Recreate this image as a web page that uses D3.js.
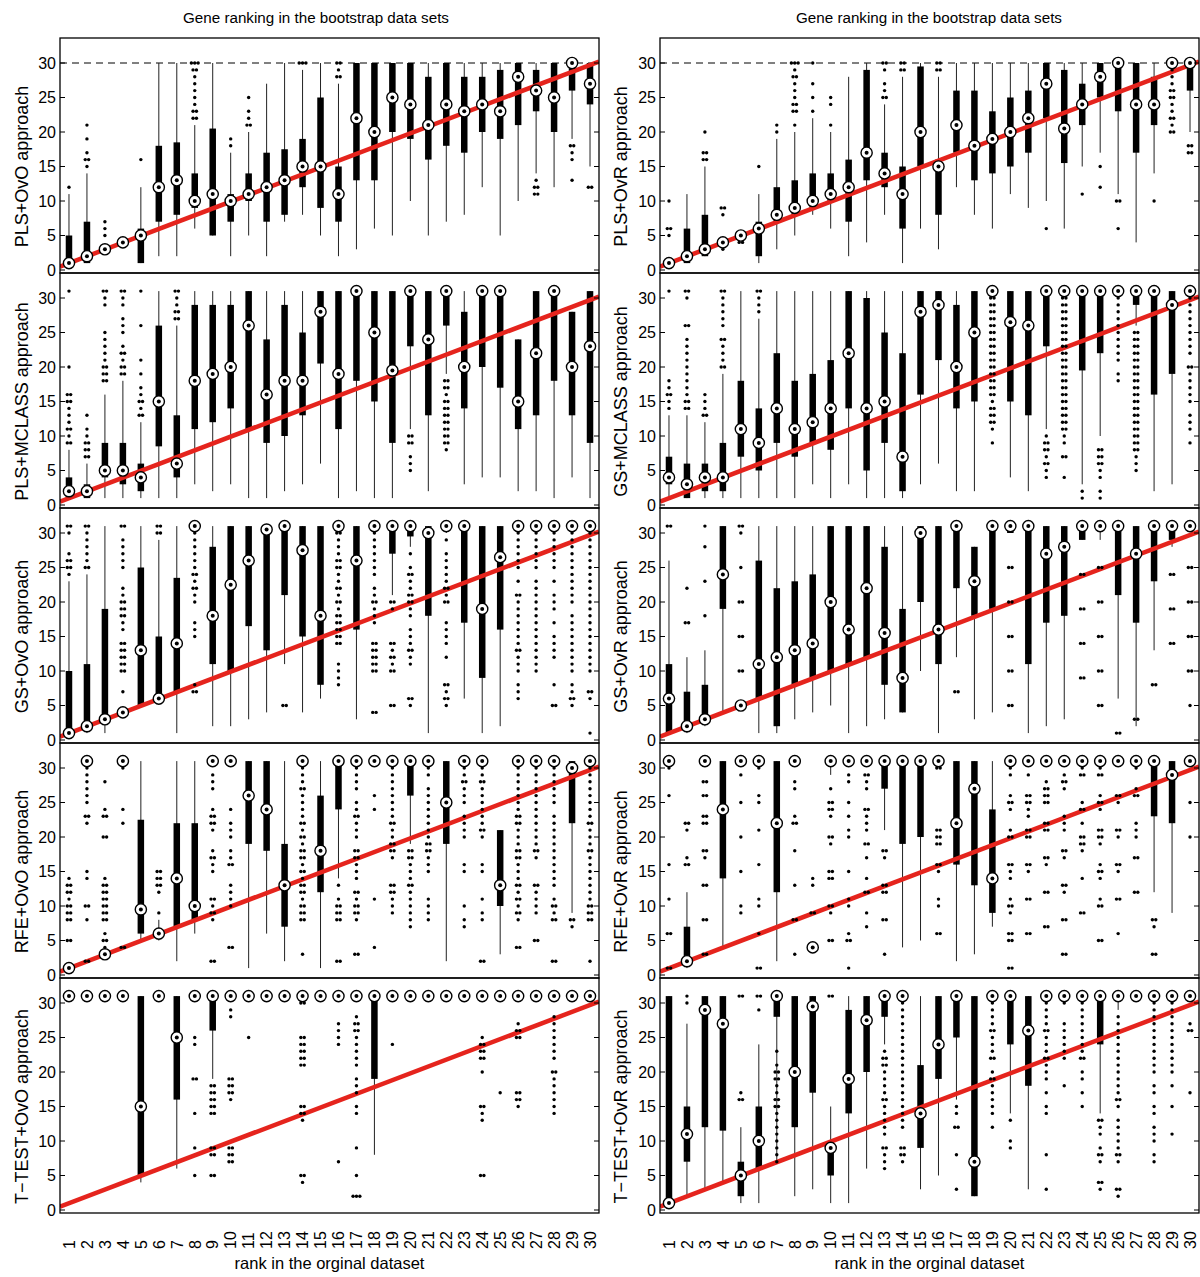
<!DOCTYPE html>
<html><head><meta charset="utf-8">
<script src="https://cdn.jsdelivr.net/npm/d3@7"></script>
<style>body{margin:0;background:#fff} text{font-family:"Liberation Sans",Arial,Helvetica,sans-serif;fill:#000}</style>
</head><body><svg id="c" width="1200" height="1277"></svg>
<script>
// ---------------- DATA ----------------
const ranks = [1,2,3,4,5,6,7,8,9,10,11,12,13,14,15,16,17,18,19,20,21,22,23,24,25,26,27,28,29,30];
const rankLabels = ["1","2","3","4","5","6","7","8","9","10","11","12","13","14","15","16","17","18","19","20","21","22","23","24","25","26","27","28","29","30"];
const yTicks = [0,5,10,15,20,25,30];
const columnTitle = "Gene ranking in the bootstrap data sets";
const xAxisTitle = "rank in the orginal dataset";
const leftLabels = ["PLS+OvO approach","PLS+MCLASS approach","GS+OvO approach","RFE+OvO approach","T\u2212TEST+OvO approach"];
const rightLabels = ["PLS+OvR approach","GS+MCLASS approach","GS+OvR approach","RFE+OvR approach","T\u2212TEST+OvR approach"];
const refLine = [[0.5,0.5],[30.5,30.2]];
const cutoffLevel = 30;

// box stats per rank: [whiskerLow, q1, median, q3, whiskerHigh]
const plsOvO_box = [[1,1,1,5,11],[1,1,2,7,14],[3,3,3,3,3],[4,4,4,4,4],[1,1,5,6,12],[2,7,12,18,30],[2,8,13,18.5,30],[6,9,10,14,21],[5,5,11,20.5,30],[2,7,10,11,17],
 [5,10,11,14,20],[2,7,12,17,27],[7,8,13,17.5,30],[8,12,15,19,29],[5,9,15,25,30],[2,7,11,15,27],[3,13,22,30,30],[6,13,20,30,30],[5,20,25,30,30],[10,19,24,30,30],
 [5,16,21,28,30],[7,18,24,30,30],[8,17,23,28,30],[12,20,24,28,30],[5,19,23,29,30],[10,21,28,30,30],[14,23,26,29,30],[12,20,25,30,30],[19,26,30,30,30],[15,24,27,30,30]];
const plsOvO_out = [[12],[15,16,16,17,19,21],[5,6,7],[],[16],[],[],[22,22,23,23,24,25,26,27,28,29,29,30,30,30],[],[18,19],
 [21,21,22,23,25],[],[],[30,30,30],[],[28,28,29,30,30],[],[],[],[],
 [],[],[],[],[],[],[11,11,12,12,13],[],[13,16,17,18,18],[12,12]];

const plsOvR_box = [[1,1,1,1,1],[1,1,2,6,11],[2,2,3,8,15],[4,4,4,4,4],[5,5,5,5,5],[1,2,6,7,11],[3,7,8,12,19],[5,8,9,13,20],[8,9,10,14,22],[6,10,11,14,20],
 [2,7,12,16,28],[4,13,17,29,30],[8,12,14,17,24],[1,6,11,15,28],[6,15,20,29.5,30],[3,8,15,16,28],[12,17,21,26,30],[8,13,18,26,30],[6,14,19,23,30],[11,15,20,25,30],
 [9,17,22,26,30],[10,22,27,30,30],[6,15.5,20.5,29,30],[15,21,24,27,30],[17,25,28,30,30],[11,23,30,30,30],[4,17,24,30,30],[14,21,24,28,30],[30,30,30,30,30],[20,26,30,30,30]];
const plsOvR_out = [[5,6,6,10],[],[16,16,17,17,20],[3,8,9,9],[4,4],[15],[20,21],[21,23,23,24,24,25,26,27,28,28,29,30,30,30],[23,25,27,30],[21,24,25],
 [],[],[25,25,26,27,29,30,30],[29,29,30,30],[],[29,29,30,30],[],[],[],[],
 [],[6],[],[11],[12,15],[6,10,10],[],[10],[20,20,21,22,22,23,24,25,25,26,26,27,28,29],[17,17,18,18]];

const plsMc_box = [[1,1,2,4,8],[1,1,2,3,6],[1,4,5,9,16],[1,3,5,9,18],[1,2,4,6,12],[1,8.5,15,26,31],[1,4,6,13,26],[3,11,18,29,31],[2,12,19,29,31],[3,14,20,29,31],
 [1,11,26,31,31],[1,9,16,24,31],[2,10,18,29,31],[3,13,18,25,31],[6,20.5,28,31,31],[1,11,19,31,31],[2,18,31,31,31],[1,15,25,31,31],[1,9,19.5,31,31],[11,23,31,31,31],
 [2,13,24,31,31],[19,26,31,31,31],[3,14,20,28,31],[4,20,31,31,31],[4,17,31,31,31],[2,11,15,24,24],[2,13,22,31,31],[1,18,31,31,31],[4,13,20,28,28],[1,9,23,31,31]];
const plsMc_out = [[9,9,10,11,11,12,13,14,15,15,16,16,20,31],[7,7,8,8,9,9,10,11,13],[18,18,19,19,20,20,21,22,23,24,25,29,30,31,31],[19,19,20,20,21,22,22,23,25,26,27,29,30,31,31],[13,13,14,15,15,16,17,19,21,26,31],[],[27,27,28,28,29,30,31,31],[],[],[],
 [],[],[],[],[],[],[],[],[],[5,6,7,9,9,10,10],
 [],[8,9,9,10,10,11,11,12,12,13,13,14,14,15,15,16,17,17,18,18],[],[],[],[],[],[],[],[]];

const gsMc_box = [[1,3,4,7,13],[1,1,3,6,13],[1,2,4,6,12],[1,2,4,9,19],[1,7,11,18,31],[1,5,9,14,27],[1,9,14,22,31],[1,7,11,18,31],[3,9,12,19,31],[1,8,14,21,31],
 [3,14,22,31,31],[1,5,14,30,31],[1,9,15,25,31],[1,2,7,22,31],[3,16,28,31,31],[6,21,29,31,31],[2,14,20,29,31],[2,15,25,31,31],[31,31,31,31,31],[4,15,26.5,31,31],
 [2,13,26,31,31],[11,23,31,31,31],[31,31,31,31,31],[3,19.5,31,31,31],[10,22,31,31,31],[31,31,31,31,31],[26,29,31,31,31],[2,16,31,31,31],[3,19,29,31,31],[31,31,31,31,31]];
const gsMc_out = [[14,15,16,16,17,18,31],[14,14,15,15,16,17,18,19,20,21,22,23,24,26,26,30,31,31],[13,13,14,15,16],[20,20,21,22,23,24,24,26,27,28,29,30,31,31],[],[28,29,30,31,31],[],[],[],[],
 [],[],[],[],[],[],[],[],[9,11,12,12,13,13,14,14,15,16,16,17,17,18,18,19,19,20,20,21,21,22,22,23,23,24,24,25,25,26,26,27,27,28,28,29,29,30,30],[],
 [],[4,5,6,6,7,8,8,9,9,10],[4,7,7,9,10,11,11,12,12,13,13,14,14,15,15,16,16,17,17,18,18,19,19,20,20,21,21,22,22,23,23,24,24,25,25,26,26,27,27,28,28,29,29,30,30],[1,2],[1,2,4,5,6,6,7,7,8,8],[18,19,21,22,23,24,25,26,27,28,29,30],[5,6,7,8,8,9,9,10,10,11,11,12,12,13,13,14,14,15,15,16,16,17,17,18,18,19,19,20,20,21,21,22,22,23,23,24,24,25,25],[],[],[9,11,12,13,15,16,17,18,19,20,20,22,23,24,25,26,27,28,29,30]];

const gsOvO_box = [[1,1,1,10,23],[1,2,2,11,24],[1,3,3,19,31],[4,4,4,4,4],[5,5,13,25,31],[6,6,6,15,29],[1,7,14,23.5,31],[31,31,31,31,31],[2,11,18,28,31],[2,10,22.5,31,31],
 [3,16.5,26,31,31],[4,13,30.5,31,31],[11,21,31,31,31],[4,15,27.5,31,31],[6,8,18,31,31],[31,31,31,31,31],[3,16,26,31,31],[31,31,31,31,31],[21,27,31,31,31],[28,29.5,31,31,31],
 [1,18,30,31,31],[30,31,31,31,31],[6,17,31,31,31],[1,9,19,31,31],[2,16,26.5,31,31],[31,31,31,31,31],[31,31,31,31,31],[31,31,31,31,31],[31,31,31,31,31],[31,31,31,31,31]];
const gsOvO_out = [[24,25,25,26,26,27,30,31,31],[25,25,26,27,28,29,30,31,31],[],[7,10,10,11,11,12,12,13,13,14,14,16,17,18,18,19,19,20,20,21,22,25,26,27,28,29,31,31],[],[30,30,31,31],[],[7,7,8,15,16,17,20,21,22,22,23,24,24,25,26,27,28,29,30],[],[],
 [],[],[5,5],[],[],[8,9,10,11,14,14,15,15,16,16,17,17,18,18,19,20,20,21,22,22,23,24,25,25,26,26,27,28,29,30,30],[],[4,4,10,10,11,11,12,12,13,13,14,14,17,18,19,20,20,21,22,24,25,26,27,28,29,30],[5,5,10,10,11,12,12,13,14,14,19,20,20],[5,6,6,11,12,13,13,14,15,16,18,19,20,20,21,21,22,23,24,24,25,27],
 [],[5,6,6,7,8,8,12,14,15,16,17,20,20,21,22,22,23,24,25,26,27,29],[],[],[],[6,7,8,10,11,12,13,13,14,15,16,17,18,19,20,21,21,23,25,26,27,28,29,30],[10,11,12,13,14,15,16,17,18,19,20,21,22,23,25,26,27,28,29,30],[5,5,8,12,13,14,15,17,19,20,21,23,25,26,27,28,29,30],[5,6,6,7,8,10,11,12,13,14,15,16,17,18,20,21,22,23,24,25,26,27,28,29,30],[1,6,7,7,10,11,12,13,14,15,16,17,18,19,20,21,22,23,24,25,26,27,28,29,30]];

const gsOvR_box = [[1,1,6,11,26],[1,2,2,7,12],[2,3,3,8,13],[4,19,24,31,31],[5,5,5,5,5],[1,6,11,26,31],[1,2,12,22,31],[3,8,13,23,31],[4,9,14,24,31],[5,10,20,31,31],
 [1,11,16,31,31],[2,12,22,31,31],[3,8,15.5,28,31],[4,4,9,19,31],[10,20,30,31,31],[1,11,16,31,31],[12,22,31,31,31],[3,18,23,28,28],[4,19,31,31,31],[30,30,31,31,31],
 [1,11,31,31,31],[2,17,27,31,31],[3,18,28,31,31],[29,29,31,31,31],[29,31,31,31,31],[6,21,31,31,31],[2,17,27,31,31],[13,23,31,31,31],[28,29,31,31,31],[31,31,31,31,31]];
const gsOvR_out = [[31,31],[17,17,22],[18,23,28,31],[],[10,10,15,15,20,20,25,30,31,31],[],[],[],[],[],
 [],[],[],[],[],[],[7,7],[],[],[5,5,10,10,15,15,20,20,25,25],
 [],[],[],[9,9,14,14,19,19,24,24],[5,5,10,10,15,15,20,20,25,25],[1,1],[3,3],[8,8],[14,14,19,19,24,24],[5,10,10,15,15,20,20,25,25]];

const rfeOvO_box = [[1,1,1,1,1],[31,31,31,31,31],[3,3,3,3,3],[31,31,31,31,31],[5,6,9.5,22.5,31],[5,5.5,6,6.5,8],[2,7,14,22,31],[6,8,10,22,31],[31,31,31,31,31],[31,31,31,31,31],
 [1,19,26,31,31],[6,18,24,31,31],[2,7,13,19,31],[31,31,31,31,31],[1,12,18,26,31],[14,24,31,31,31],[31,31,31,31,31],[31,31,31,31,31],[31,31,31,31,31],[19,26,31,31,31],
 [31,31,31,31,31],[2,19,25,31,31],[31,31,31,31,31],[31,31,31,31,31],[3,10,13,21,21],[31,31,31,31,31],[31,31,31,31,31],[31,31,31,31,31],[9,22,30,31,31],[31,31,31,31,31]];
const rfeOvO_out = [[5,5,8,8,9,9,10,10,11,12,12,13,13,14],[2,2,8,10,10,14,15,22,23,23,25,26,27,28,29,30],[4,5,5,6,8,8,9,9,10,10,11,11,12,12,13,13,14,20,20,23,23,24,28],[4,4,22,24,30],[],[9,12,13,13,14,14,15,15],[],[],[2,2,8,9,9,10,11,11,15,16,17,17,18,21,22,22,23,23,24,27,28,29],[4,4,10,11,12,13,16,16,17,18,20,21,22,24],
 [],[],[],[3,8,8,9,9,10,10,11,12,12,13,13,14,15,15,16,17,17,18,18,19,20,20,21,22,22,23,24,25,26,27,27,28,29,30],[],[2,2,8,8,9,9,10,10,11,13],[3,3,8,9,9,10,10,11,12,12,14,15,16,17,17,18,18,20,21,22,23,23,24,25,27,28,29,30],[4,11,24,26],[9,10,11,12,12,13,13,17,18,18,19,19,20,21,22,22,23,24,25,26,27,28,29,30],[7,8,9,10,11,12,13,13,14,15,16,17,17,18,18],
 [8,9,10,11,15,16,17,18,18,19,19,20,21,22,23,24,25,26,27,29,30],[],[7,8,10,15,16,20,21,22,23,25,26,27,28,28,29,30],[2,2,8,9,11,15,16,20,21,21,22,23,24,25,26,27,28,28,29,30],[],[4,4,8,9,9,10,11,11,12,13,13,14,15,16,17,17,18,18,19,20,21,22,22,23,23,24,25,26,27,28,29,30],[5,5,9,10,11,12,13,13,17,18,18,19,20,21,22,23,24,25,26,27,28,29,30],[2,2,8,8,9,10,10,11,13,14,15,16,17,18,19,20,21,22,23,25,26,27,28,29,30],[7,8,8],[2,8,8,9,9,10,10,11,12,13,14,15,16,17,18,18,19,20,21,22,22,23,24,25,26,27,28,29,30]];

const rfeOvR_box = [[31,31,31,31,31],[1,2,2,7,12],[31,31,31,31,31],[4,14,24,31,31],[31,31,31,31,31],[31,31,31,31,31],[2,12,22,31,31],[31,31,31,31,31],[4,4,4,4,4],[29,31,31,31,31],
 [31,31,31,31,31],[31,31,31,31,31],[21,27,31,31,31],[4,19,31,31,31],[5,20,31,31,31],[31,31,31,31,31],[2,16,22,31,31],[3,13,27,31,31],[7,9,14,24,31],[31,31,31,31,31],
 [31,31,31,31,31],[31,31,31,31,31],[31,31,31,31,31],[31,31,31,31,31],[31,31,31,31,31],[31,31,31,31,31],[31,31,31,31,31],[12,23,31,31,31],[9,22,29,31,31],[31,31,31,31,31]];
const rfeOvR_out = [[1,1,6,6,11,16,26,30],[16,16,17,21,22,22],[3,3,8,8,13,13,17,18,18,22,22,23,23,26,26,28,28],[],[9,10,15,20,25,29],[1,1,6,10,11,16,21,25,26,30],[],[3,8,8,13,18,22,22,23,27,28],[9,9,13,14],[5,5,9,10,10,14,14,15,15,19,20,20,23,24,24,25,25,27],
 [1,5,5,6,10,11,15,20,21,23,25,28,29],[7,9,12,12,14,17,19,19,21,22,23,24,24,27,28,29,29],[3,8,8,12,12,13,13,17,18,18],[],[],[6,6,10,11,15,16,16,19,19,20,20,21,21,30,30],[],[],[],[1,1,5,5,6,6,9,10,10,11,14,15,16,16,20,20,21,24,25,25,26,29,30],
 [6,6,11,11,15,16,16,20,20,21,21,23,24,25,25,26,26,29],[7,7,12,12,16,17,17,21,21,22,22,25,25,26,26,27,27,28],[3,3,8,8,12,13,13,17,18,18,21,22,23,27,28,28,29],[9,9,14,18,19,19,20,20,22,24,24,25,29,29,30],[5,5,10,10,11,14,15,15,16,19,20,20,21,21,24,25,25,26,29,29,30],[6,11,11,15,16,16,20,21,21,25,26,26],[12,12,17,17,20,21,22,26,26,27,30],[3,3,7,8,8],[],[20,25]];

const ttOvO_box = [[31,31,31,31,31],[31,31,31,31,31],[31,31,31,31,31],[31,31,31,31,31],[4,5,15,31,31],[31,31,31,31,31],[6,16,25,31,31],[31,31,31,31,31],[19,26,31,31,31],[31,31,31,31,31],
 [31,31,31,31,31],[31,31,31,31,31],[31,31,31,31,31],[31,31,31,31,31],[31,31,31,31,31],[31,31,31,31,31],[31,31,31,31,31],[8,19,31,31,31],[31,31,31,31,31],[31,31,31,31,31],
 [31,31,31,31,31],[31,31,31,31,31],[31,31,31,31,31],[31,31,31,31,31],[31,31,31,31,31],[31,31,31,31,31],[31,31,31,31,31],[31,31,31,31,31],[31,31,31,31,31],[31,31,31,31,31]];
const ttOvO_out = [[],[],[],[],[],[],[],[5,9,14,19,19,24,25],[5,5,8,8,9,9,14,14,15,15,16,16,17,17,18,18],[7,7,8,8,9,9,16,17,17,18,18,19,19,28,29],
 [25],[],[],[4,5,5,13,14,14,15,15,21,21,22,22,23,23,24,24,25,25,30,30],[],[7,24,25,26,27],[2,2,2,5,9,14,15,17,18,19,21,22,23,24,25,26,26,27,27,28],[],[24],[],
 [],[],[],[5,5,13,14,15,15,20,22,22,23,23,24,24,25],[17],[15,16,16,17,17,25,25,26,26,27],[],[14,15,16,17,18,19,20,20,22,23,24,25,26,27,28],[],[]];

const ttOvR_box = [[1,1,1,31,31],[2,7,11,15,27],[3,12,29,31,31],[4,11.5,27,31,31],[1,2,5,7,12],[1,6,10,15,24],[7,28,31,31,31],[2,12,20,31,31],[3,17,29.5,31,31],[1,5,9,10,15],
 [1,14,19,29,31],[6,20,27.5,31,31],[24,28,31,31,31],[31,31,31,31,31],[3,9,14,21,31],[5,19,24,31,31],[16,25,31,31,31],[2,2,7,31,31],[31,31,31,31,31],[14,24,31,31,31],
 [3,18,26,31,31],[31,31,31,31,31],[31,31,31,31,31],[31,31,31,31,31],[14,24,31,31,31],[29,31,31,31,31],[31,31,31,31,31],[31,31,31,31,31],[31,31,31,31,31],[31,31,31,31,31]];
const ttOvR_out = [[],[30,31],[],[],[16,16,17,31,31],[29,31,31],[7,8,9,10,11,12,13,14,15,15,16,16,17,18,19,19,20,20,21,23],[],[],[31,31],
 [],[],[6,7,8,9,9,11,12,13,14,15,16,16,17,18,19,20,21,21,22,22,23],[7,8,8,9,9,12,13,14,15,16,17,18,19,20,21,22,23,24,25,26,27,28,29,30],[],[],[3,8,12,12,14,15],[],[12,14,15,16,17,18,19,19,20,22,22,23,24,25,26,26,27,28,29,30],[9,10,13],
 [],[3,8,14,15,17,19,20,21,22,22,23,24,25,26,26,27,28,29,30],[18,22,23,24,25,26,27,30],[15,17,19,20,22,22,23,24,25,26,27,28,29,30],[3,4,4,7,8,8,9,11,12,13,13],[2,3,3,7,8,8,9,10,11,12,13,15,16,16,17,18,19,20,21,22,23,24,25,26,27,28],[],[7,8,10,11,12,14,15,17,18,20,21,22,23,24,25,26,27,28,29,30],[11,15,18,20,21,22,23,24,25,26,27,28,29,30],[17,26,26,27]];

// panels (row-major by column)
const leftBoxes = [plsOvO_box, plsMc_box, gsOvO_box, rfeOvO_box, ttOvO_box];
const leftOuts  = [plsOvO_out, plsMc_out, gsOvO_out, rfeOvO_out, ttOvO_out];
const rightBoxes = [plsOvR_box, gsMc_box, gsOvR_box, rfeOvR_box, ttOvR_box];
const rightOuts  = [plsOvR_out, gsMc_out, gsOvR_out, rfeOvR_out, ttOvR_out];

// ---------------- DRAW ----------------
const svg = d3.select("#c");
const cols = [
  {x0: 60, x1: 599, labels: leftLabels, boxes: leftBoxes, outs: leftOuts, labelX: 22, titleX: 316},
  {x0: 660, x1: 1199, labels: rightLabels, boxes: rightBoxes, outs: rightOuts, labelX: 621, titleX: 929}
];
const panelTop = 38, panelH = 235;
const red = "#e5241d";

cols.forEach((col, ci) => {
  const x = d3.scaleLinear().domain([0.5, 30.5]).range([col.x0, col.x1]);
  // column title
  svg.append("text").attr("x", col.titleX).attr("y", 23)
    .attr("text-anchor", "middle").style("font-size", "15.2px").text(columnTitle);

  col.boxes.forEach((stats, pi) => {
    const top = panelTop + pi * panelH;
    const y = d3.scaleLinear().domain([0, 30]).range([top + 232, top + 25]);
    const g = svg.append("g");
    const clipId = `clip${ci}_${pi}`;
    g.append("clipPath").attr("id", clipId).append("rect")
      .attr("x", col.x0).attr("y", top).attr("width", col.x1 - col.x0).attr("height", panelH);

    // dashed cutoff line in top row
    if (pi === 0) {
      g.append("line").attr("x1", col.x0).attr("x2", col.x1)
        .attr("y1", y(cutoffLevel)).attr("y2", y(cutoffLevel))
        .attr("stroke", "#000").attr("stroke-width", 1).attr("stroke-dasharray", "7,5");
    }
    // whiskers
    stats.forEach((s, i) => {
      if (s[4] > s[0]) {
        g.append("line").attr("x1", x(ranks[i])).attr("x2", x(ranks[i]))
          .attr("y1", y(s[0])).attr("y2", y(s[4]))
          .attr("stroke", "#222").attr("stroke-width", 1);
      }
    });
    // boxes
    const bw = 6.5;
    stats.forEach((s, i) => {
      if (s[3] > s[1]) {
        g.append("rect").attr("x", x(ranks[i]) - bw / 2).attr("width", bw)
          .attr("y", y(s[3])).attr("height", y(s[1]) - y(s[3])).attr("fill", "#000");
      }
    });
    // red reference line
    g.append("line").attr("clip-path", `url(#${clipId})`)
      .attr("x1", x(refLine[0][0])).attr("y1", y(refLine[0][1]))
      .attr("x2", x(refLine[1][0])).attr("y2", y(refLine[1][1]))
      .attr("stroke", red).attr("stroke-width", 4.5);
    // outliers
    col.outs[pi].forEach((vals, i) => {
      const counts = d3.rollup(vals, v => v.length, v => v);
      counts.forEach((n, v) => {
        for (let k = 0; k < n; k++) {
          const off = (k - (n - 1) / 2) * 3.4;
          g.append("circle").attr("cx", x(ranks[i]) + off).attr("cy", y(v)).attr("r", 1.7).attr("fill", "#000");
        }
      });
    });
    // medians
    stats.forEach((s, i) => {
      g.append("circle").attr("cx", x(ranks[i])).attr("cy", y(s[2])).attr("r", 5.6)
        .attr("fill", "#fff").attr("stroke", "#000").attr("stroke-width", 1.4);
      g.append("circle").attr("cx", x(ranks[i])).attr("cy", y(s[2])).attr("r", 2).attr("fill", "#000");
    });
    // frame
    g.append("rect").attr("x", col.x0).attr("y", top).attr("width", col.x1 - col.x0).attr("height", panelH)
      .attr("fill", "none").attr("stroke", "#000").attr("stroke-width", 1.3);
    // y ticks (inside, both sides) and labels
    yTicks.forEach(t => {
      g.append("line").attr("x1", col.x0).attr("x2", col.x0 + 5).attr("y1", y(t)).attr("y2", y(t)).attr("stroke", "#000");
      g.append("line").attr("x1", col.x1 - 5).attr("x2", col.x1).attr("y1", y(t)).attr("y2", y(t)).attr("stroke", "#000");
      g.append("text").attr("x", col.x0 - 4).attr("y", y(t)).attr("dy", "0.36em")
        .attr("text-anchor", "end").style("font-size", "16px").text(t);
    });
    // y label
    g.append("text").attr("transform", `translate(${col.labelX},${top + 25 + (232 - 25) / 2}) rotate(-90)`)
      .attr("text-anchor", "middle").attr("dy", "0.35em").style("font-size", "18px").text(col.labels[pi]);

    // x tick labels on bottom row
    if (pi === col.boxes.length - 1) {
      const bottom = top + panelH;
      ranks.forEach((r, i) => {
        g.append("text").attr("transform", `translate(${x(r)},${bottom + 36}) rotate(-90)`)
          .attr("text-anchor", "start").attr("dy", "0.36em").style("font-size", "16px").text(rankLabels[i]);
      });
      g.append("text").attr("x", (col.x0 + col.x1) / 2).attr("y", bottom + 56)
        .attr("text-anchor", "middle").style("font-size", "16.5px").text(xAxisTitle);
    }
  });
});
</script>
</body></html>
